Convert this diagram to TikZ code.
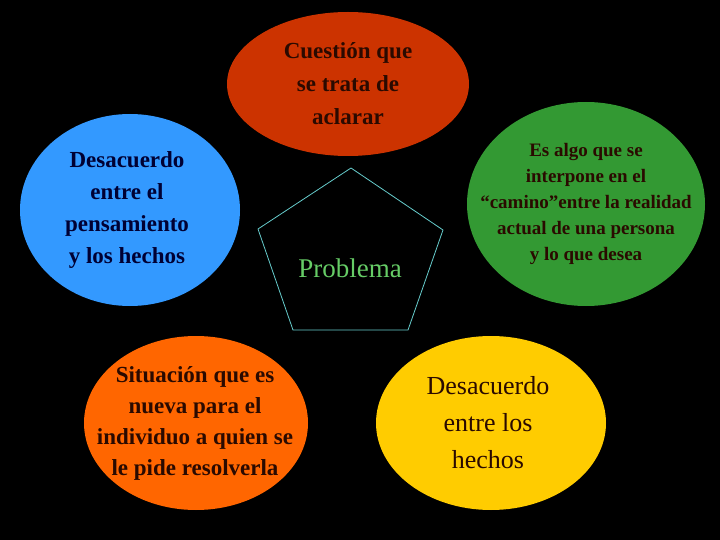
\documentclass[tikz,border=0pt]{standalone}
\usepackage{fontspec}
\setmainfont{Liberation Serif}
\usetikzlibrary{shapes.geometric}
\definecolor{rojo}{HTML}{CC3300}
\definecolor{azul}{HTML}{3399FF}
\definecolor{verde}{HTML}{339933}
\definecolor{naranja}{HTML}{FF6600}
\definecolor{amarillo}{HTML}{FFCC00}
\definecolor{borde}{HTML}{66CCCC}
\definecolor{verdeclaro}{HTML}{66CC66}
\definecolor{tinta}{HTML}{2A0A00}
\definecolor{marino}{HTML}{000033}

\begin{document}
\begin{tikzpicture}[x=1pt,y=-1pt,
  bubble/.style={ellipse,inner sep=0pt},
  boldtext/.style={align=center,text=tinta,font=\bfseries\fontsize{23}{#1}\selectfont}]
\fill[black] (0,0) rectangle (720,540);
\node[bubble,fill=rojo,minimum width=242,minimum height=144] (red) at (348,84) {};
\node[bubble,fill=azul,minimum width=220,minimum height=192] (blue) at (130,210) {};
\node[bubble,fill=verde,minimum width=238,minimum height=204] (green) at (586,204) {};
\node[bubble,fill=naranja,minimum width=224,minimum height=174] (orange) at (196,423) {};
\node[bubble,fill=amarillo,minimum width=230,minimum height=174] (yellow) at (491,423) {};
\node[boldtext=33] (redtext) at (red.center) {Cuestión que\\se trata de\\aclarar};
\node[boldtext=32,text=marino] (bluetext) at ([xshift=-3]blue.center) {Desacuerdo\\entre el\\pensamiento\\y los hechos};
\node[align=center,text=tinta,font=\bfseries\fontsize{19}{26}\selectfont] (greentext) at (green.center) {Es algo que se\\interpone en el\\“camino”entre la realidad\\actual de una persona\\y lo que desea};
\node[boldtext=31] (orangetext) at ([xshift=-1]orange.center) {Situación que es\\nueva para el\\individuo a quien se\\le pide resolverla};
\node[align=center,text=tinta,font=\fontsize{26}{37}\selectfont] (yellowtext) at ([xshift=-3]yellow.center) {Desacuerdo\\entre los\\hechos};
\coordinate (p1) at (351,168);
\coordinate (p2) at (443,230);
\coordinate (p3) at (408,330);
\coordinate (p4) at (293,330);
\coordinate (p5) at (258,229);
\draw[borde,line width=0.8pt] (p1) -- (p2) -- (p3) -- (p4) -- (p5) -- cycle;
\node[text=verdeclaro,font=\fontsize{27}{32}\selectfont] (problema) at (350,268) {Problema};
\end{tikzpicture}
\end{document}
